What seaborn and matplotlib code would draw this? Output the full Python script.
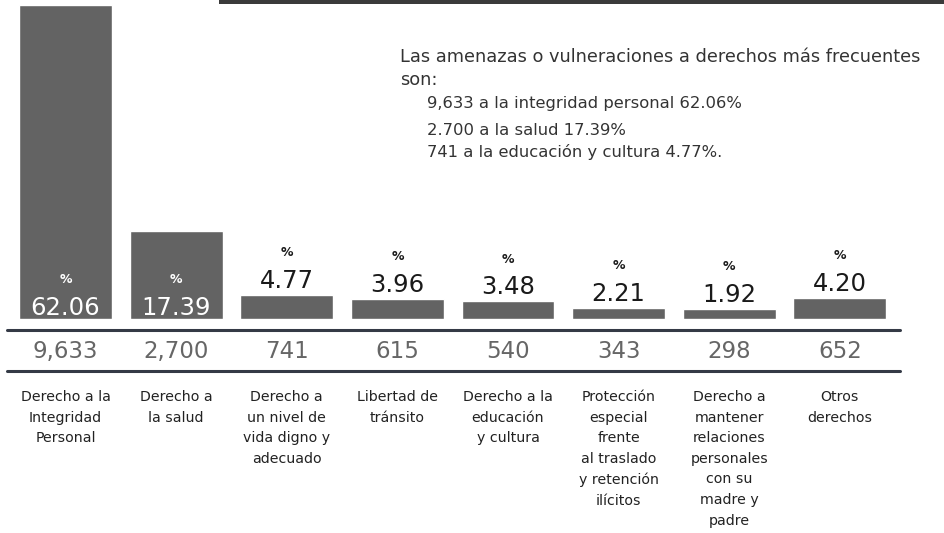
import matplotlib
matplotlib.use("Agg")
import matplotlib.pyplot as plt
import matplotlib.transforms as mtransforms
from matplotlib.lines import Line2D
from matplotlib.patches import Rectangle
import pandas as pd
import seaborn as sns

# ─────────────────────────────────────────
# DATA
# ─────────────────────────────────────────
categories = [
    "Derecho a la\nIntegridad\nPersonal",
    "Derecho a\nla salud",
    "Derecho a\nun nivel de\nvida digno y\nadecuado",
    "Libertad de\ntránsito",
    "Derecho a la\neducación\ny cultura",
    "Protección\nespecial\nfrente\nal traslado\ny retención\nilícitos",
    "Derecho a\nmantener\nrelaciones\npersonales\ncon su\nmadre y\npadre",
    "Otros\nderechos",
]
percentages = [62.06, 17.39, 4.77, 3.96, 3.48, 2.21, 1.92, 4.20]
counts = [9633, 2700, 741, 615, 540, 343, 298, 652]

note_title = ["Las amenazas o vulneraciones a derechos más frecuentes", "son:"]
note_items = [
    "9,633 a la integridad personal 62.06%",
    "2.700 a la salud 17.39%",
    "741 a la educación y cultura 4.77%.",
]

df = pd.DataFrame({"derecho": categories, "pct": percentages, "casos": counts})

# ─────────────────────────────────────────
# STYLE
# ─────────────────────────────────────────
sns.set_theme(style="white")
plt.rcParams["font.family"] = ["DejaVu Sans"]

bar_color = "#636363"
line_color = "#343a46"

W, H = 945, 533
fig = plt.figure(figsize=(W / 100, H / 100), dpi=100)
ax = fig.add_axes([10.2 / W, 214 / H, 885 / W, 319 / H])

sns.barplot(data=df, x="derecho", y="pct", color=bar_color,
            saturation=1, width=0.84, ax=ax)
ax.set_xlim(-0.5, len(categories) - 0.5)
ax.set_ylim(0, 319 / 5.06)
ax.set_axis_off()

# percentage labels: inside the tall bars, above the short ones
for i, p in enumerate(percentages):
    if p > 10:
        ax.annotate(f"{p:.2f}", (i, 0), xytext=(0, 3), textcoords="offset points",
                    ha="center", va="baseline", fontsize=17.5, color="white")
        ax.annotate("%", (i, 0), xytext=(0, 26), textcoords="offset points",
                    ha="center", va="baseline", fontsize=9, color="white",
                    fontweight="bold")
    else:
        ax.annotate(f"{p:.2f}", (i, p), xytext=(0, 5), textcoords="offset points",
                    ha="center", va="baseline", fontsize=17.5, color="#1a1a1a")
        ax.annotate("%", (i, p), xytext=(0, 28), textcoords="offset points",
                    ha="center", va="baseline", fontsize=9, color="#1a1a1a",
                    fontweight="bold")

# counts row + category labels below the bars
trans = mtransforms.blended_transform_factory(ax.transData, fig.transFigure)
for i, c in enumerate(counts):
    ax.text(i, 1 - 358 / H, f"{c:,}", transform=trans, ha="center",
            va="baseline", fontsize=16.5, color="#666666")
for i, name in enumerate(categories):
    ax.text(i, 1 - 390 / H, name, transform=trans, ha="center", va="top",
            fontsize=10.2, color="#222222", linespacing=1.6)

# separator lines and top band
for y in (330, 371):
    fig.add_artist(Line2D([7 / W, 900 / W], [1 - y / H, 1 - y / H],
                          color=line_color, lw=2.2))
fig.add_artist(Rectangle((219 / W, 1 - 4 / H), 1, 5 / H,
                         transform=fig.transFigure, color="#3a3a3a", lw=0))

# note text
fig.text(400 / W, 1 - 62 / H, note_title[0], fontsize=12.8, color="#333333",
         va="baseline")
fig.text(400 / W, 1 - 85 / H, note_title[1], fontsize=12.8, color="#333333",
         va="baseline")
for line, y in zip(note_items, (108, 135, 157)):
    fig.text(427 / W, 1 - y / H, line, fontsize=11.8, color="#333333",
             va="baseline")

fig.savefig("out.png", dpi=100)
